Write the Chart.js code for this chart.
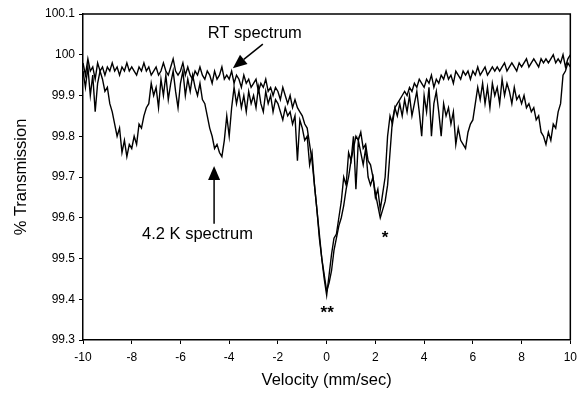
<!DOCTYPE html>
<html>
<head>
<meta charset="utf-8">
<script src="https://cdn.jsdelivr.net/npm/chart.js@4.4.1/dist/chart.umd.min.js"></script>
<style>
  html, body { margin: 0; padding: 0; background: #fff; }
  #wrap { width: 583px; height: 394px; }
</style>
</head>
<body>
<div id="wrap"><canvas id="chart" width="583" height="394"></canvas></div>
<script>
// Velocidad (mm/sec), un canal cada 0.1
const velocity = [
  -10, -9.9, -9.8, -9.7, -9.6, -9.5, -9.4, -9.3, -9.2, -9.1,
  -9, -8.9, -8.8, -8.7, -8.6, -8.5, -8.4, -8.3, -8.2, -8.1,
  -8, -7.9, -7.8, -7.7, -7.6, -7.5, -7.4, -7.3, -7.2, -7.1,
  -7, -6.9, -6.8, -6.7, -6.6, -6.5, -6.4, -6.3, -6.2, -6.1,
  -6, -5.9, -5.8, -5.7, -5.6, -5.5, -5.4, -5.3, -5.2, -5.1,
  -5, -4.9, -4.8, -4.7, -4.6, -4.5, -4.4, -4.3, -4.2, -4.1,
  -4, -3.9, -3.8, -3.7, -3.6, -3.5, -3.4, -3.3, -3.2, -3.1,
  -3, -2.9, -2.8, -2.7, -2.6, -2.5, -2.4, -2.3, -2.2, -2.1,
  -2, -1.9, -1.8, -1.7, -1.6, -1.5, -1.4, -1.3, -1.2, -1.1,
  -1, -0.9, -0.8, -0.7, -0.6, -0.5, -0.4, -0.3, -0.2, -0.1,
  0, 0.1, 0.2, 0.3, 0.4, 0.5, 0.6, 0.7, 0.8, 0.9,
  1, 1.1, 1.2, 1.3, 1.4, 1.5, 1.6, 1.7, 1.8, 1.9,
  2, 2.1, 2.2, 2.3, 2.4, 2.5, 2.6, 2.7, 2.8, 2.9,
  3, 3.1, 3.2, 3.3, 3.4, 3.5, 3.6, 3.7, 3.8, 3.9,
  4, 4.1, 4.2, 4.3, 4.4, 4.5, 4.6, 4.7, 4.8, 4.9,
  5, 5.1, 5.2, 5.3, 5.4, 5.5, 5.6, 5.7, 5.8, 5.9,
  6, 6.1, 6.2, 6.3, 6.4, 6.5, 6.6, 6.7, 6.8, 6.9,
  7, 7.1, 7.2, 7.3, 7.4, 7.5, 7.6, 7.7, 7.8, 7.9,
  8, 8.1, 8.2, 8.3, 8.4, 8.5, 8.6, 8.7, 8.8, 8.9,
  9, 9.1, 9.2, 9.3, 9.4, 9.5, 9.6, 9.7, 9.8, 9.9, 10
];

// Espectro a temperatura ambiente (% transmisión)
const rtSpectrum = [
  99.98, 99.95, 99.99, 99.96, 99.97, 99.94, 99.98, 99.96, 99.97, 99.95,
  99.97, 99.96, 99.98, 99.96, 99.97, 99.95, 99.97, 99.96, 99.98, 99.96,
  99.97, 99.96, 99.95, 99.97, 99.96, 99.98, 99.96, 99.97, 99.95, 99.96,
  99.97, 99.95, 99.96, 99.98, 99.96, 99.95, 99.97, 99.99, 99.96, 99.95,
  99.96, 99.98, 99.95, 99.97, 99.95, 99.94, 99.96, 99.95, 99.97, 99.95,
  99.94, 99.96, 99.95, 99.93, 99.96, 99.94, 99.95, 99.97, 99.94, 99.95,
  99.94, 99.96, 99.93, 99.95, 99.94, 99.92, 99.95, 99.93, 99.94, 99.92,
  99.93, 99.94, 99.91, 99.93, 99.92, 99.94, 99.91, 99.92, 99.90, 99.92,
  99.91, 99.89, 99.92, 99.90, 99.88, 99.90, 99.87, 99.89, 99.87, 99.86,
  99.85, 99.83, 99.82, 99.78, 99.74, 99.68, 99.62, 99.56, 99.50, 99.46,
  99.42, 99.44, 99.47, 99.52, 99.55, 99.58, 99.60, 99.63, 99.67, 99.70,
  99.74, 99.77, 99.80, 99.79, 99.81, 99.77, 99.78, 99.74, 99.73, 99.70,
  99.66, 99.63, 99.60, 99.62, 99.64, 99.68, 99.76, 99.84, 99.87, 99.88,
  99.89, 99.90, 99.91, 99.90, 99.92, 99.91, 99.93, 99.92, 99.94, 99.93,
  99.92, 99.94, 99.93, 99.95, 99.92, 99.94, 99.93, 99.95, 99.94, 99.96,
  99.94, 99.95, 99.93, 99.96, 99.95, 99.94, 99.96, 99.95, 99.96, 99.94,
  99.96, 99.95, 99.97, 99.95, 99.96, 99.97, 99.95, 99.96, 99.97, 99.96,
  99.97, 99.96, 99.97, 99.98, 99.96, 99.97, 99.98, 99.97, 99.96, 99.98,
  99.97, 99.98, 99.99, 99.97, 99.98, 99.99, 99.98, 99.97, 99.99, 99.98,
  99.99, 99.98, 99.99, 100.00, 99.98, 99.99, 99.98, 100.00, 99.97, 99.99, 100.00
];

// Espectro a 4.2 K (% transmisión)
const lowTSpectrum = [
  99.96, 99.92, 99.97, 99.90, 99.95, 99.86, 99.93, 99.96, 99.94, 99.91,
  99.92, 99.88, 99.86, 99.83, 99.80, 99.82, 99.76, 99.79, 99.75, 99.78,
  99.77, 99.80, 99.78, 99.83, 99.82, 99.85, 99.87, 99.88, 99.93, 99.90,
  99.92, 99.87, 99.94, 99.90, 99.95, 99.89, 99.93, 99.96, 99.91, 99.87,
  99.93, 99.96, 99.90, 99.94, 99.91, 99.95, 99.92, 99.90, 99.93, 99.89,
  99.88, 99.85, 99.82, 99.80, 99.77, 99.78, 99.76, 99.75, 99.79, 99.85,
  99.80, 99.87, 99.92, 99.88, 99.91, 99.87, 99.90, 99.86, 99.91, 99.88,
  99.90, 99.87, 99.92, 99.88, 99.86, 99.91, 99.88, 99.90, 99.86, 99.89,
  99.88, 99.86, 99.84, 99.87, 99.85, 99.86, 99.83, 99.85, 99.74, 99.84,
  99.82, 99.79, 99.80, 99.73, 99.76, 99.68, 99.62, 99.55, 99.50, 99.45,
  99.41, 99.46, 99.51, 99.55, 99.56, 99.60, 99.64, 99.70, 99.68, 99.76,
  99.74, 99.80, 99.67, 99.79, 99.76, 99.73, 99.77, 99.70, 99.68, 99.70,
  99.65, 99.67, 99.62, 99.66, 99.70, 99.80, 99.85, 99.83, 99.87, 99.85,
  99.88, 99.85, 99.89, 99.86, 99.90, 99.85, 99.88, 99.91, 99.86, 99.80,
  99.90, 99.86, 99.92, 99.80, 99.88, 99.91, 99.86, 99.80, 99.88, 99.85,
  99.87, 99.83, 99.86, 99.78, 99.82, 99.79, 99.78, 99.77, 99.81, 99.83,
  99.84, 99.88, 99.92, 99.89, 99.93, 99.88, 99.92, 99.87, 99.93, 99.90,
  99.92, 99.88, 99.94, 99.90, 99.93, 99.91, 99.88, 99.92, 99.89, 99.90,
  99.88, 99.90, 99.87, 99.88, 99.86, 99.87, 99.84, 99.85, 99.81, 99.80,
  99.78, 99.81, 99.79, 99.83, 99.82, 99.86, 99.88, 99.95, 99.96, 99.98, 99.97
];

// Etiquetas de texto sobre la gráfica (en unidades de datos)
const notes = [
  { text: 'RT spectrum', x: -2.95, y: 100.053 },
  { text: '4.2 K spectrum', x: -5.3, y: 99.56 },
  { text: '**', x: 0.02, y: 99.366 },
  { text: '*', x: 2.4, y: 99.55 }
];
const arrows = [
  { from: [-2.62, 100.026], to: [-3.85, 99.967] },
  { from: [-4.62, 99.585], to: [-4.62, 99.727] }
];

const toPoints = (xs, ys) => xs.map((x, i) => ({ x: x, y: ys[i] }));

const FONT = 'Liberation Sans, Arial, sans-serif';

// Marco superior y derecho + flechas y textos
const framePlugin = {
  id: 'frame',
  afterDraw(chart) {
    const { ctx, chartArea, scales } = chart;
    const xs = scales.x, ys = scales.y;
    ctx.save();
    ctx.strokeStyle = '#000';
    ctx.lineWidth = 1.5;
    ctx.beginPath();
    ctx.moveTo(chartArea.left, chartArea.top);
    ctx.lineTo(chartArea.right, chartArea.top);
    ctx.lineTo(chartArea.right, chartArea.bottom);
    ctx.stroke();

    ctx.fillStyle = '#000';
    ctx.textAlign = 'center';
    ctx.textBaseline = 'middle';
    notes.forEach(n => {
      ctx.font = (n.text.startsWith('*') ? 'bold 17px ' : '16.5px ') + FONT;
      ctx.fillText(n.text, xs.getPixelForValue(n.x), ys.getPixelForValue(n.y));
    });

    arrows.forEach(a => {
      const x1 = xs.getPixelForValue(a.from[0]), y1 = ys.getPixelForValue(a.from[1]);
      const x2 = xs.getPixelForValue(a.to[0]), y2 = ys.getPixelForValue(a.to[1]);
      const ang = Math.atan2(y2 - y1, x2 - x1);
      const head = 14, half = 6;
      const bx = x2 - head * Math.cos(ang), by = y2 - head * Math.sin(ang);
      ctx.lineWidth = 1.5;
      ctx.beginPath();
      ctx.moveTo(x1, y1);
      ctx.lineTo(bx, by);
      ctx.stroke();
      ctx.beginPath();
      ctx.moveTo(x2, y2);
      ctx.lineTo(bx + half * Math.sin(ang), by - half * Math.cos(ang));
      ctx.lineTo(bx - half * Math.sin(ang), by + half * Math.cos(ang));
      ctx.closePath();
      ctx.fill();
    });
    ctx.restore();
  }
};

const ctx = document.getElementById('chart').getContext('2d');
new Chart(ctx, {
  type: 'line',
  data: {
    datasets: [
      {
        label: 'RT spectrum',
        data: toPoints(velocity, rtSpectrum),
        borderColor: '#000',
        borderWidth: 1.4,
        pointRadius: 0,
        tension: 0
      },
      {
        label: '4.2 K spectrum',
        data: toPoints(velocity, lowTSpectrum),
        borderColor: '#000',
        borderWidth: 1.4,
        pointRadius: 0,
        tension: 0
      }
    ]
  },
  options: {
    responsive: false,
    animation: false,
    layout: { padding: { left: 0, right: 11, top: 14, bottom: 0 } },
    plugins: {
      legend: { display: false },
      tooltip: { enabled: false }
    },
    scales: {
      x: {
        type: 'linear',
        min: -10,
        max: 10,
        ticks: {
          stepSize: 2,
          color: '#000',
          padding: 6,
          font: { family: FONT, size: 12 }
        },
        grid: { drawOnChartArea: false, drawTicks: true, tickLength: 4, color: '#000' },
        border: { color: '#000', width: 1.5 },
        title: {
          display: true,
          text: 'Velocity (mm/sec)',
          color: '#000',
          font: { family: FONT, size: 16.5 },
          padding: { top: 0, bottom: 4 }
        },
        afterFit(scale) { scale.height = 54; }
      },
      y: {
        min: 99.3,
        max: 100.1,
        ticks: {
          stepSize: 0.1,
          color: '#000',
          padding: 4,
          font: { family: FONT, size: 12 },
          callback: v => String(Number(v.toFixed(1)))
        },
        grid: { drawOnChartArea: false, drawTicks: true, tickLength: 4, color: '#000' },
        border: { color: '#000', width: 1.5 },
        title: {
          display: true,
          text: '% Transmission',
          color: '#000',
          font: { family: FONT, size: 16.5 },
          padding: { top: 12, bottom: 0 }
        },
        afterFit(scale) { scale.width = 83; }
      }
    }
  },
  plugins: [framePlugin]
});
</script>
</body>
</html>
